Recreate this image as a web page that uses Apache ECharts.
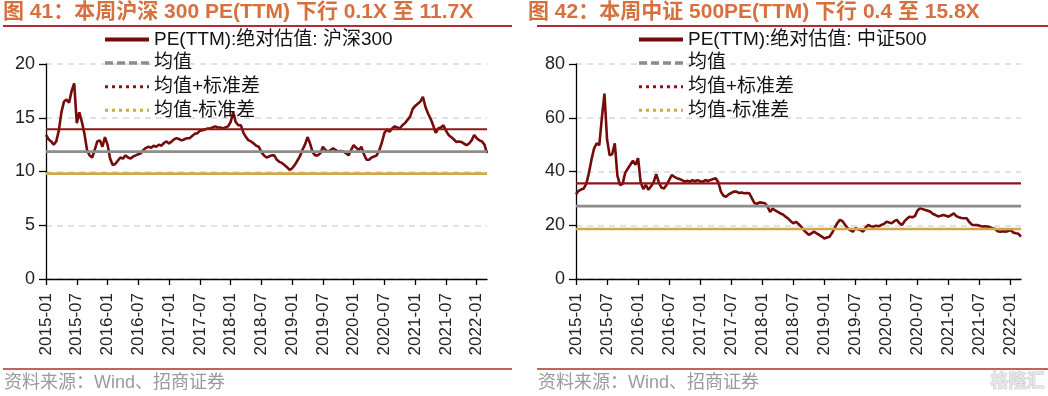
<!DOCTYPE html>
<html><head><meta charset="utf-8">
<script src="https://cdn.jsdelivr.net/npm/echarts@6/dist/echarts.min.js"></script>
<style>html,body{margin:0;padding:0;background:#fff}#c{width:1048px;height:396px}</style>
</head><body><div id="c"></div>
<script>
// Semi-monthly observation dates 2015-01-01 ... 2022-03-01
const categories = [];
for (let y = 2015; y <= 2022; y++) {
  for (let m = 1; m <= 12; m++) {
    const mm = (m < 10 ? '0' : '') + m;
    categories.push(y + '-' + mm + '-01');
    if (y === 2022 && m === 3) break;
    categories.push(y + '-' + mm + '-16');
  }
}
const xTickMonths = ['01', '07'];

const hs300Name = 'PE(TTM):绝对估值: 沪深300';
const hs300PE = [
13.4,13.0,12.8,12.5,12.8,13.8,15.5,16.5,16.7,16.4,17.5,18.2,14.5,15.5,14.6,13.5,12.0,11.5,11.3,12.0,
12.8,12.9,12.3,13.2,12.5,11.2,10.6,10.7,11.0,11.3,11.2,11.5,11.3,11.2,11.4,11.5,11.6,11.7,12.0,12.2,
12.3,12.2,12.4,12.3,12.5,12.4,12.65,12.8,12.6,12.8,13.0,13.1,13.0,12.9,13.0,13.1,13.1,13.3,13.5,13.55,
13.8,13.85,13.9,14.0,14.0,14.1,14.2,14.1,14.1,14.0,14.1,14.2,14.6,15.5,14.6,14.3,14.3,13.6,13.2,12.9,
12.8,12.6,12.4,12.3,11.8,11.5,11.3,11.4,11.5,11.5,11.1,10.9,10.8,10.6,10.4,10.15,10.3,10.6,11.0,11.4,
12.0,12.5,13.2,12.6,11.8,11.5,11.5,11.7,12.3,12.0,11.85,12.0,12.15,12.0,11.85,11.9,11.85,11.7,11.5,12.0,
12.45,12.2,12.0,12.3,11.6,11.1,11.1,11.3,11.4,11.5,12.0,12.7,13.6,13.9,13.7,14.0,14.2,14.1,14.0,14.3,
14.5,14.8,15.1,15.8,16.1,16.3,16.5,16.95,16.0,15.4,14.9,14.3,13.6,14.0,14.1,14.3,13.8,13.4,13.2,13.0,
12.75,12.8,12.75,12.6,12.45,12.6,12.9,13.4,13.1,12.9,12.8,12.5,11.7
];
const hs300Mean = 11.85, hs300Upper = 13.93, hs300Lower = 9.8;

const zz500Name = 'PE(TTM):绝对估值: 中证500';
const zz500PE = [
31.5,32.8,33.3,33.7,35.5,39.5,44.5,48.6,50.5,49.8,60.0,69.0,52.0,46.0,46.5,50.5,38.5,35.0,35.3,39.5,
41.0,42.5,44.0,42.5,45.0,36.0,33.5,35.0,33.2,34.5,36.0,39.0,36.0,34.0,33.7,35.0,36.8,38.7,38.0,37.5,
37.2,36.8,36.2,36.6,36.2,36.8,36.4,36.8,36.4,36.2,36.8,36.5,36.8,37.2,37.5,36.0,32.5,31.0,30.6,31.5,
32.0,32.5,32.5,32.0,32.2,31.9,32.0,31.9,30.0,28.2,28.0,28.5,28.4,28.2,27.0,25.0,26.2,25.5,25.0,24.4,
24.0,23.2,22.5,21.5,20.7,21.3,20.5,19.5,18.2,17.3,16.4,17.0,17.6,17.0,16.4,15.8,15.1,15.4,15.7,17.2,
19.0,20.8,22.0,21.5,20.2,18.9,18.2,17.6,18.9,18.5,18.2,17.6,19.3,20.1,19.6,19.5,19.8,19.6,20.1,20.5,
21.3,21.0,20.7,21.5,22.0,20.8,20.1,21.5,22.5,23.2,23.0,23.4,25.5,26.3,26.0,25.7,25.4,25.0,24.2,23.8,
23.3,23.5,23.8,23.5,23.2,23.8,24.4,23.4,23.0,22.7,22.6,22.6,21.2,20.2,20.1,20.1,19.8,19.5,19.6,19.5,
19.3,18.9,18.6,17.8,17.6,17.8,17.6,17.9,18.2,17.3,17.0,16.8,15.8
];
const zz500Mean = 27.1, zz500Upper = 35.6, zz500Lower = 18.6;

const titles = ['图 41：本周沪深 300 PE(TTM) 下行 0.1X 至 11.7X', '图 42：本周中证 500PE(TTM) 下行 0.4 至 15.8X'];
const sourceText = '资料来源：Wind、招商证券';
const meanName = '均值', upperName = '均值+标准差', lowerName = '均值-标准差';

const FONT = '"Liberation Sans", Arial, "Noto Sans CJK SC", sans-serif';
const MAIN = '#760b0b', UPPER = '#8e1515', GREY = '#8c8c8c', GOLD = '#d1a848';
const RULE = '#ad2f2f', TITLE = '#d6703f';

const chart = echarts.init(document.getElementById('c'), null, {renderer: 'canvas'});
const last = categories.length - 1;

function isTick(idx, value) {
  return value.slice(8) === '01' && xTickMonths.indexOf(value.slice(5, 7)) >= 0;
}

function xAxis(gi) {
  return {
    type: 'category', gridIndex: gi, data: categories, boundaryGap: false,
    axisLine: {lineStyle: {color: '#000', width: 1.3}},
    axisTick: {show: true, interval: isTick, length: 6, lineStyle: {color: '#000', width: 1.3}},
    axisLabel: {interval: isTick, rotate: 90, margin: 14, color: '#222', fontSize: 17, fontFamily: FONT,
      formatter: v => v.slice(0, 7)},
    splitLine: {show: false}
  };
}
function yAxis(gi, max, interval) {
  return {
    type: 'value', gridIndex: gi, min: 0, max: max, interval: interval,
    axisLine: {show: true, lineStyle: {color: '#000', width: 1.3}},
    axisTick: {show: true, length: 7, lineStyle: {color: '#000', width: 1.3}},
    axisLabel: {margin: 11, color: '#222', fontSize: 18, fontFamily: FONT},
    splitLine: {show: true, lineStyle: {color: '#d9d9d9', type: [6, 5], width: 1.5}}
  };
}
function series(gi, name, data, mean, upper, lower) {
  const flat = (v) => [[categories[0], v], [categories[last], v]];
  return [
    {name: name, type: 'line', xAxisIndex: gi, yAxisIndex: gi, data: data, symbol: 'none',
      lineStyle: {color: MAIN, width: 2.6}, itemStyle: {color: MAIN}, z: 2, animation: false},
    {name: meanName, type: 'line', xAxisIndex: gi, yAxisIndex: gi, data: flat(mean), symbol: 'none',
      lineStyle: {color: GREY, width: 2.6}, itemStyle: {color: GREY}, z: 3, animation: false},
    {name: upperName, type: 'line', xAxisIndex: gi, yAxisIndex: gi, data: flat(upper), symbol: 'none',
      lineStyle: {color: UPPER, width: 2.2}, itemStyle: {color: UPPER}, z: 3, animation: false},
    {name: lowerName, type: 'line', xAxisIndex: gi, yAxisIndex: gi, data: flat(lower), symbol: 'none',
      lineStyle: {color: GOLD, width: 2.6}, itemStyle: {color: GOLD}, z: 3, animation: false}
  ];
}
function legend(left, mainName) {
  const hide = {opacity: 0, color: 'rgba(0,0,0,0)', borderWidth: 0};
  return {
    orient: 'vertical', left: left, top: 29, padding: 0, itemWidth: 44, itemHeight: 14, itemGap: 2.6,
    selectedMode: false,
    textStyle: {fontSize: 19, color: '#111', fontFamily: FONT, lineHeight: 21},
    data: [
      {name: mainName, itemStyle: hide, lineStyle: {color: MAIN, width: 4, type: 'solid'}},
      {name: meanName, itemStyle: hide, lineStyle: {color: GREY, width: 3.5, type: [8, 4]}},
      {name: upperName, itemStyle: hide, lineStyle: {color: UPPER, width: 3, type: [3, 4]}},
      {name: lowerName, itemStyle: hide, lineStyle: {color: GOLD, width: 3, type: [3, 4]}}
    ]
  };
}

const option = {
  backgroundColor: '#fff',
  animation: false,
  title: [
    {text: titles[0], left: 3, top: 0, padding: 0, textStyle: {fontSize: 21, fontWeight: 'bold', color: TITLE, fontFamily: FONT, lineHeight: 24}},
    {text: titles[1], left: 528, top: 0, padding: 0, textStyle: {fontSize: 21, fontWeight: 'bold', color: TITLE, fontFamily: FONT, lineHeight: 24}}
  ],
  legend: [legend(103, hs300Name), legend(637, zz500Name)],
  grid: [
    {left: 46, top: 64, width: 441, height: 215, containLabel: false},
    {left: 576, top: 64, width: 445, height: 215, containLabel: false}
  ],
  xAxis: [xAxis(0), xAxis(1)],
  yAxis: [yAxis(0, 20, 5), yAxis(1, 80, 20)],
  series: [].concat(
    series(0, hs300Name, hs300PE, hs300Mean, hs300Upper, hs300Lower),
    series(1, zz500Name, zz500PE, zz500Mean, zz500Upper, zz500Lower)
  ),
  graphic: [
    {type: 'line', shape: {x1: 3, y1: 26, x2: 512, y2: 26}, style: {stroke: RULE, lineWidth: 2}},
    {type: 'line', shape: {x1: 537, y1: 26, x2: 1048, y2: 26}, style: {stroke: RULE, lineWidth: 2}},
    {type: 'line', shape: {x1: 3, y1: 369, x2: 512, y2: 369}, style: {stroke: RULE, lineWidth: 1.5}},
    {type: 'line', shape: {x1: 537, y1: 369, x2: 1048, y2: 369}, style: {stroke: RULE, lineWidth: 1.5}},
    {type: 'text', left: 4, top: 374, style: {text: sourceText, fill: '#9a9a9a', font: '18px ' + FONT}},
    {type: 'text', left: 538, top: 374, style: {text: sourceText, fill: '#9a9a9a', font: '18px ' + FONT}},
    {type: 'text', left: 990, top: 373, style: {text: '格隆汇', fill: '#e6e6e6', stroke: '#c8c8c8', lineWidth: 1, font: 'bold 18px ' + FONT}}
  ]
};
chart.setOption(option);
</script></body></html>
